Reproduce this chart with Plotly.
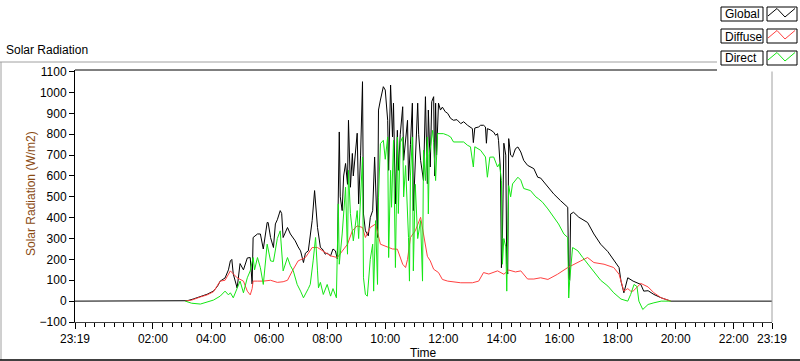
import plotly.graph_objects as go
from datetime import datetime, timedelta

# ---------------- data ----------------
global_times = ["23:19", "03:07", "03:11", "03:23", "03:31", "03:38", "03:52", "04:05", "04:13", "04:19",
                "04:29", "04:36", "04:40", "04:43", "04:46", "04:54", "05:00", "05:07", "05:15", "05:21",
                "05:25", "05:27", "05:36", "05:42", "05:48", "05:56", "05:58", "06:03", "06:09", "06:13",
                "06:17", "06:23", "06:26", "06:29", "06:38", "06:44", "06:50", "06:54", "07:00", "07:05",
                "07:11", "07:15", "07:21", "07:29", "07:34", "07:36", "07:40", "07:46", "07:50", "07:56",
                "08:00", "08:07", "08:12", "08:17", "08:21", "08:25", "08:27", "08:31", "08:34", "08:38",
                "08:42", "08:44", "08:48", "08:52", "08:54", "09:02", "09:05", "09:09", "09:13", "09:15",
                "09:19", "09:25", "09:29", "09:34", "09:38", "09:44", "09:46", "09:50", "09:56", "10:00",
                "10:05", "10:07", "10:11", "10:15", "10:17", "10:21", "10:25", "10:27", "10:31", "10:36",
                "10:38", "10:46", "10:48", "10:52", "10:56", "10:58", "11:02", "11:07", "11:09", "11:13",
                "11:19", "11:23", "11:27", "11:29", "11:33", "11:36", "11:40", "11:42", "11:44", "11:46",
                "11:50", "11:54", "11:58", "12:04", "12:09", "12:15", "12:21", "12:28", "12:36", "12:42",
                "12:50", "12:56", "13:00", "13:02", "13:05", "13:13", "13:17", "13:23", "13:27", "13:29",
                "13:31", "13:38", "13:44", "13:48", "13:52", "13:54", "13:58", "14:00", "14:02", "14:05",
                "14:09", "14:11", "14:13", "14:15", "14:19", "14:23", "14:29", "14:34", "14:40", "14:46",
                "14:54", "15:07", "15:15", "15:21", "15:36", "15:48", "16:02", "16:13", "16:17", "16:19",
                "16:21", "16:23", "16:29", "16:40", "16:58", "17:11", "17:25", "17:40", "17:52", "18:03",
                "18:07", "18:13", "18:21", "18:32", "18:48", "18:54", "19:03", "19:15", "19:30", "19:44",
                "19:50", "23:19"]
global_vals = [0, 0, 2, 10, 16, 22, 33, 48, 70, 96,
               111, 150, 193, 200, 130, 63, 180, 150, 207, 209,
               82, 305, 322, 322, 250, 377, 377, 305, 257, 370,
               390, 434, 420, 305, 353, 322, 305, 289, 260, 241,
               185, 230, 241, 386, 530, 480, 353, 257, 250, 225,
               230, 217, 250, 241, 202, 811, 500, 434, 600, 660,
               560, 867, 546, 708, 600, 805, 466, 700, 1052, 418,
               337, 313, 400, 434, 691, 305, 916, 964, 1028, 1012,
               867, 627, 1036, 787, 949, 466, 819, 627, 800, 932,
               675, 867, 578, 750, 949, 434, 700, 949, 800, 675,
               578, 980, 563, 916, 643, 956, 980, 600, 949, 700,
               949, 916, 930, 908, 900, 876, 867, 870, 851, 860,
               843, 835, 827, 760, 830, 835, 843, 843, 835, 757,
               827, 820, 810, 795, 803, 771, 627, 160, 300, 757,
               700, 177, 130, 779, 700, 691, 731, 739, 715, 675,
               651, 635, 594, 590, 546, 514, 482, 458, 450, 110,
               100, 418, 426, 402, 377, 322, 273, 237, 197, 161,
               96, 40, 112, 96, 80, 48, 50, 32, 16, 5,
               0, 0]

diffuse_times = ["03:07", "03:20", "03:38", "03:52", "04:05", "04:19", "04:29", "04:40", "04:54", "05:07",
                 "05:15", "05:21", "05:25", "05:27", "05:36", "05:48", "06:03", "06:17", "06:29", "06:38",
                 "06:48", "07:00", "07:15", "07:29", "07:40", "07:50", "08:07", "08:21", "08:31", "08:42",
                 "08:52", "09:02", "09:13", "09:19", "09:29", "09:40", "09:50", "10:05", "10:15", "10:25",
                 "10:36", "10:42", "10:46", "10:52", "11:02", "11:13", "11:19", "11:27", "11:33", "11:40",
                 "11:50", "11:58", "12:09", "12:21", "12:36", "13:00", "13:13", "13:23", "13:34", "13:52",
                 "14:05", "14:15", "14:29", "14:40", "14:54", "15:07", "15:21", "15:36", "15:56", "16:17",
                 "16:29", "16:44", "16:58", "17:11", "17:32", "17:52", "18:03", "18:07", "18:13", "18:21",
                 "18:27", "18:32", "18:48", "19:03", "19:15", "19:30", "19:44", "19:50"]
diffuse_vals = [0, 5, 20, 30, 45, 96, 100, 145, 112, 96,
                48, 30, 60, 96, 96, 96, 100, 90, 93, 100,
                145, 193, 209, 257, 257, 241, 217, 209, 241, 273,
                337, 361, 353, 305, 353, 370, 273, 257, 250, 249,
                177, 161, 200, 305, 337, 402, 322, 215, 193, 153,
                137, 104, 96, 92, 88, 88, 96, 137, 130, 145,
                129, 149, 140, 145, 106, 106, 112, 104, 129, 161,
                177, 193, 209, 185, 177, 161, 129, 96, 48, 60,
                48, 48, 85, 68, 40, 16, 3, 0]

direct_times = ["03:07", "03:20", "03:38", "03:52", "04:05", "04:19", "04:29", "04:36", "04:40", "04:46",
                "04:54", "05:00", "05:07", "05:15", "05:21", "05:27", "05:30", "05:36", "05:42", "05:48",
                "05:56", "06:03", "06:09", "06:17", "06:23", "06:29", "06:38", "06:44", "06:50", "06:58",
                "07:05", "07:11", "07:21", "07:25", "07:31", "07:36", "07:40", "07:42", "07:46", "07:52",
                "08:00", "08:07", "08:12", "08:19", "08:23", "08:25", "08:31", "08:38", "08:42", "08:44",
                "08:48", "08:54", "09:02", "09:05", "09:13", "09:15", "09:19", "09:23", "09:29", "09:34",
                "09:36", "09:40", "09:44", "09:46", "09:50", "09:56", "10:00", "10:05", "10:07", "10:11",
                "10:13", "10:17", "10:21", "10:25", "10:27", "10:31", "10:36", "10:38", "10:42", "10:48",
                "10:50", "10:52", "10:56", "10:58", "11:02", "11:07", "11:13", "11:15", "11:17", "11:19",
                "11:23", "11:27", "11:29", "11:31", "11:38", "11:40", "11:44", "11:48", "11:54", "12:00",
                "12:09", "12:15", "12:21", "12:36", "12:42", "12:50", "12:56", "13:02", "13:05", "13:17",
                "13:27", "13:31", "13:36", "13:44", "13:52", "13:56", "14:00", "14:02", "14:05", "14:09",
                "14:11", "14:15", "14:19", "14:23", "14:29", "14:34", "14:40", "14:46", "15:00", "15:11",
                "15:17", "15:25", "15:36", "15:48", "15:58", "16:09", "16:17", "16:19", "16:21", "16:27",
                "16:38", "16:48", "17:05", "17:25", "17:40", "17:52", "18:07", "18:21", "18:27", "18:34",
                "18:40", "18:44", "18:52", "19:03", "19:15", "19:30", "19:50"]
direct_vals = [0, -10, -14, -5, 5, 24, 48, 30, 40, 16,
               60, 96, 40, 112, 145, 209, 150, 209, 160, 80,
               273, 193, 190, 300, 337, 145, 209, 170, 145, 80,
               48, 16, 60, 80, 193, 305, 145, 64, 90, 32,
               80, 24, 60, 16, 466, 177, 322, 546, 225, 627,
               420, 289, 434, 300, 691, 112, 32, 24, 200, 273,
               48, 386, 80, 498, 755, 771, 680, 787, 209, 627,
               450, 771, 161, 787, 420, 760, 787, 500, 650, 305,
               96, 600, 787, 145, 560, 300, 386, 209, 96, 723,
               578, 787, 418, 700, 819, 760, 578, 803, 803, 803,
               795, 787, 763, 763, 763, 747, 740, 643, 740, 723,
               691, 594, 690, 691, 643, 660, 578, 177, 300, 260,
               48, 554, 500, 562, 578, 594, 580, 540, 530, 500,
               490, 474, 442, 402, 370, 322, 305, 15, 100, 257,
               241, 209, 161, 100, 72, 40, 10, 0, 32, 80,
               70, 0, -40, -16, -8, 0, 0]

x_tick_labels = ["23:19", "02:00", "04:00", "06:00", "08:00", "10:00", "12:00",
                 "14:00", "16:00", "18:00", "20:00", "22:00", "23:19"]
y_tick_values = [-100, 0, 100, 200, 300, 400, 500, 600, 700, 800, 900, 1000, 1100]

series_names = ["Global", "Diffuse", "Direct"]
series_colors = ["#000000", "#ff4040", "#14e614"]


def to_dt(times):
    """Turn HH:MM strings into datetimes; the chart starts at 23:19 of the previous day."""
    out = []
    h0 = int(times[0].split(":")[0])
    day = datetime(2020, 1, 1) if h0 >= 23 else datetime(2020, 1, 2)
    prev = None
    for s in times:
        h, m = map(int, s.split(":"))
        t = day.replace(hour=h, minute=m)
        if prev is not None and t < prev:
            day += timedelta(days=1)
            t = day.replace(hour=h, minute=m)
        out.append(t)
        prev = t
    return out


x_tick_vals = to_dt(x_tick_labels)
x0, x1 = x_tick_vals[0], x_tick_vals[-1]
minor_vals = []
t = datetime(2020, 1, 1, 23, 20)
while t < x1:
    if t not in x_tick_vals:
        minor_vals.append(t)
    t += timedelta(minutes=20)

# ---------------- figure ----------------
W, H = 800, 361
L, R, T, B = 75, 28, 70, 39
PW, PH = W - L - R, H - T - B


def PX(px):
    return (px - L) / PW


def PY(py):
    return (H - B - py) / PH


FONT = "Liberation Sans, Arial, sans-serif"

fig = go.Figure()
data = [(global_times, global_vals), (diffuse_times, diffuse_vals), (direct_times, direct_vals)]
for (tt, vv), name, col in zip(data, series_names, series_colors):
    fig.add_trace(go.Scatter(x=to_dt(tt), y=vv, mode="lines", name=name,
                             line=dict(color=col, width=1), line_shape="linear"))

shapes = []
# outer frame of the chart panel
shapes.append(dict(type="line", xref="paper", yref="paper", x0=PX(0), x1=PX(800), y0=PY(62), y1=PY(62),
                   line=dict(color="#a0a0a0", width=1)))
shapes.append(dict(type="line", xref="paper", yref="paper", x0=PX(1), x1=PX(1), y0=PY(62), y1=PY(360),
                   line=dict(color="#a0a0a0", width=1)))
shapes.append(dict(type="line", xref="paper", yref="paper", x0=PX(0), x1=PX(800), y0=PY(360), y1=PY(360),
                   line=dict(color="#000000", width=1.5)))
# plot area border (top black, right grey)
shapes.append(dict(type="line", xref="paper", yref="paper", x0=0, x1=1, y0=1, y1=1,
                   line=dict(color="#000000", width=1)))
shapes.append(dict(type="line", xref="paper", yref="paper", x0=1, x1=1, y0=0, y1=1,
                   line=dict(color="#a0a0a0", width=1)))
# legend area
shapes.append(dict(type="rect", xref="paper", yref="paper", x0=PX(717), x1=PX(801), y0=PY(0), y1=PY(71.5),
                   fillcolor="white", line=dict(width=0)))
row_tops = [7, 29, 51]
zig = [(768, 9), (777, 1.5), (785, 10), (795, 1.5)]
annotations = []
for top, name, col in zip(row_tops, series_names, series_colors):
    shapes.append(dict(type="rect", xref="paper", yref="paper", x0=PX(721), x1=PX(763),
                       y0=PY(top), y1=PY(top + 14), line=dict(color="#000000", width=1)))
    shapes.append(dict(type="rect", xref="paper", yref="paper", x0=PX(767), x1=PX(797),
                       y0=PY(top), y1=PY(top + 14), line=dict(color="#000000", width=1)))
    path = "M " + " L ".join(f"{PX(x):.5f},{PY(top + y):.5f}" for x, y in zig)
    shapes.append(dict(type="path", xref="paper", yref="paper", path=path, line=dict(color=col, width=1)))
    annotations.append(dict(text=name, xref="paper", yref="paper", x=PX(723), y=PY(top + 7.5),
                            xanchor="left", yanchor="middle", showarrow=False,
                            font=dict(family=FONT, size=12, color="#000000")))

annotations += [
    dict(text="Solar Radiation", xref="paper", yref="paper", x=PX(4), y=PY(50), xanchor="left",
         yanchor="middle", showarrow=False, font=dict(family=FONT, size=12, color="#000000")),
    dict(text="Solar Radiation (W/m2)", xref="paper", yref="paper", x=PX(31), y=PY(194), textangle=-90,
         xanchor="center", yanchor="middle", showarrow=False, font=dict(family=FONT, size=12, color="#8a4a12")),
    dict(text="Time", xref="paper", yref="paper", x=PX(423), y=PY(353), xanchor="center", yanchor="middle",
         showarrow=False, font=dict(family=FONT, size=12, color="#000000")),
]

fig.update_layout(
    width=W, height=H, margin=dict(l=L, r=R, t=T, b=B, autoexpand=False),
    paper_bgcolor="white", plot_bgcolor="white", showlegend=False,
    shapes=shapes, annotations=annotations,
    xaxis=dict(type="date", range=[x0, x1], tickmode="array", tickvals=x_tick_vals, ticktext=x_tick_labels,
               ticks="outside", ticklen=6, tickcolor="#000000", tickwidth=1, showgrid=False, zeroline=False,
               showline=True, linecolor="#404040", linewidth=1,
               tickfont=dict(family=FONT, size=12, color="#000000"),
               minor=dict(tickmode="array", tickvals=minor_vals, ticks="outside", ticklen=4,
                          tickcolor="#000000", tickwidth=1, showgrid=False)),
    yaxis=dict(range=[-100, 1108], tickmode="array", tickvals=y_tick_values, ticks="outside", ticklen=5,
               tickcolor="#000000", showgrid=False, zeroline=False, showline=True, linecolor="#000000",
               linewidth=1, tickfont=dict(family=FONT, size=12, color="#000000")),
)

fig.write_html("out.html", config={"displayModeBar": False},
               post_script="document.body.style.margin='0px';document.body.style.overflow='hidden';")
